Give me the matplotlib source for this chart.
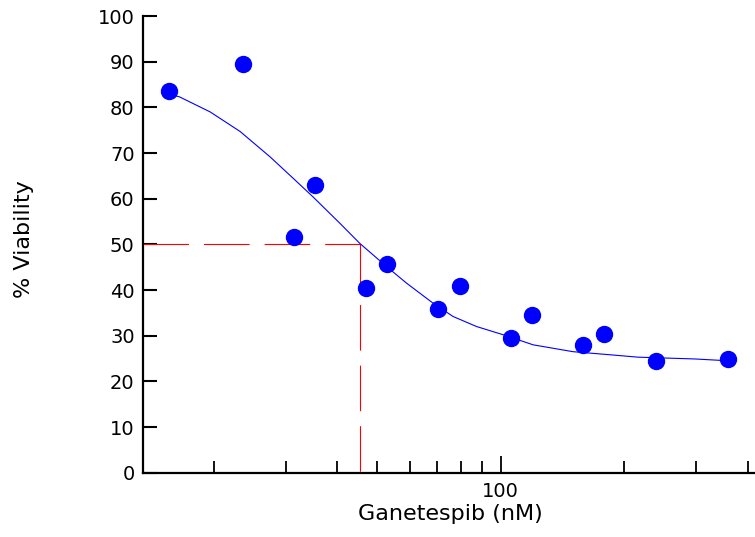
import numpy as np
import matplotlib
matplotlib.use('Agg')
import matplotlib.pyplot as plt
from matplotlib.ticker import LogLocator, FixedLocator, NullFormatter, FixedFormatter

# measured points (nM, % viability)
conc = [15.6, 23.6, 31.4, 35.3, 47.0, 52.9, 70.3, 79.6, 106, 119, 159, 179, 239, 359]
viability = [83.6, 89.4, 51.5, 62.9, 40.5, 45.8, 35.8, 40.8, 29.6, 34.5, 28.0, 30.3, 24.4, 25.0]

# fitted curve
fit_conc = [15.6, 16.5, 19.6, 23.2, 27.4, 31.2, 34.9, 40.6, 45.4, 52.8, 59.0, 68.5,
            76.6, 87.4, 101.5, 120, 150, 186, 216, 298, 359]
fit_viab = [82.9, 82.3, 79.0, 74.7, 69.2, 64.5, 60.4, 54.6, 50.2, 45.1, 41.5, 37.1,
            34.2, 32.0, 30.2, 28.0, 26.5, 25.8, 25.3, 24.9, 24.5]

ec50 = 45.5
half = 50

xmin, xmax = 13.45, 416.6
yticks = list(range(0, 101, 10))

plt.rcParams['font.family'] = ['DejaVu Sans']

fig = plt.figure(figsize=(7.55, 5.37), dpi=100)
ax = fig.add_axes([143 / 755, 64.3 / 537, 612 / 755, 456.7 / 537])

# EC50 guide lines
ax.plot([xmin, ec50], [half, half], color='red', lw=0.8, dashes=(41, 13.5), zorder=2)
ax.plot([ec50, ec50], [half, 0], color='red', lw=0.8, dashes=(41, 13.5), zorder=2)

ax.plot(fit_conc, fit_viab, color='blue', lw=0.8, zorder=3)
ax.plot(conc, viability, 'o', color='blue', ms=11.5, mec='blue', zorder=4, clip_on=False)

ax.set_xscale('log')
ax.set_xlim(xmin, xmax)
ax.set_ylim(0, 100)

ax.xaxis.set_major_locator(FixedLocator([100]))
ax.xaxis.set_major_formatter(FixedFormatter(['100']))
ax.xaxis.set_minor_locator(FixedLocator([20, 30, 40, 50, 60, 70, 80, 90, 200, 300, 400]))
ax.xaxis.set_minor_formatter(NullFormatter())
ax.set_yticks(yticks)

for s in ['top', 'right']:
    ax.spines[s].set_visible(False)
for s in ['left', 'bottom']:
    ax.spines[s].set_linewidth(1.6)

ax.tick_params(axis='y', which='major', direction='in', length=10, width=1.5, labelsize=14, pad=6)
ax.tick_params(axis='x', which='major', direction='in', length=12, width=1.3, labelsize=14, pad=7)
ax.tick_params(axis='x', which='minor', direction='in', length=9, width=1.3)

ax.set_xlabel('Ganetespib (nM)', fontsize=16)
ax.xaxis.set_label_coords(0.5016, -0.068)
ax.set_ylabel('% Viability', fontsize=16)
ax.yaxis.set_label_coords(-0.178, 0.5106)

fig.savefig('out.png', dpi=100)
